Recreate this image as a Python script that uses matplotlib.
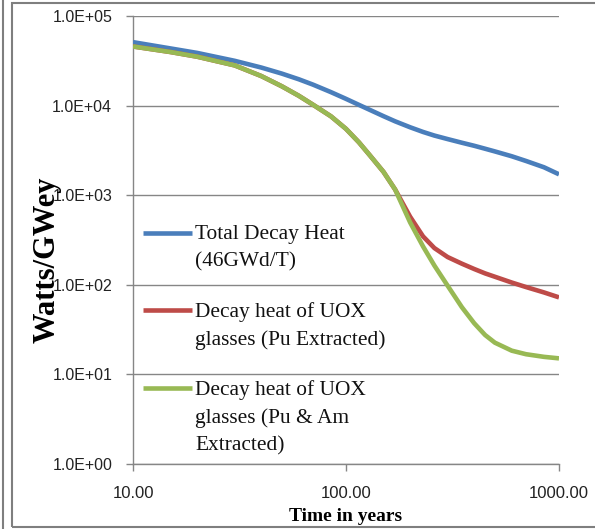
import numpy as np
import matplotlib
matplotlib.use("Agg")
import matplotlib.pyplot as plt
from matplotlib.lines import Line2D
from matplotlib.patches import Rectangle

# years after discharge
years = [10, 15, 20, 30, 40, 50, 60, 70, 85, 100, 115, 130, 150, 170, 200,
         230, 260, 300, 350, 400, 450, 500, 600, 700, 850, 1000]

total_heat = [51050, 43450, 38730, 31620, 26600, 22750, 19680, 17140, 14130, 11890,
              10190, 8910, 7620, 6680, 5730, 5080, 4630, 4230, 3850, 3560,
              3300, 3080, 2720, 2410, 2050, 1710]
pu_extracted = [45710, 39630, 35160, 28120, 21380, 16410, 12880, 10230, 7590, 5500,
                3890, 2750, 1820, 1160, 575, 347, 257, 204, 172, 150,
                134, 123, 106, 94.4, 82.2, 72.4]
pu_am_extracted = [45710, 39630, 35160, 28120, 21380, 16410, 12880, 10230, 7590, 5500,
                   3890, 2750, 1820, 1160, 497, 268, 164, 97.7, 56.2, 37.2,
                   27.5, 22.6, 18.4, 16.8, 15.7, 15.1]

series_labels = ["Total Decay Heat\n(46GWd/T)",
                 "Decay heat of UOX\nglasses (Pu Extracted)",
                 "Decay heat of UOX\nglasses (Pu & Am\nExtracted)"]
colors = ["#4a7ebb", "#be4b48", "#98b954"]

yticks = [1, 10, 100, 1000, 1e4, 1e5]
ytick_labels = ["1.0E+00", "1.0E+01", "1.0E+02", "1.0E+03", "1.0E+04", "1.0E+05"]
xticks = [10, 100, 1000]
xtick_labels = ["10.00", "100.00", "1000.00"]

serif = ["Liberation Serif", "DejaVu Serif"]
sans = ["Liberation Sans", "DejaVu Sans"]

fig = plt.figure(figsize=(5.95, 5.29), dpi=100)
ax = fig.add_axes([133 / 595, 1 - 464 / 529, 426 / 595, 448 / 529])

series = [total_heat, pu_extracted, pu_am_extracted]
for vals, c in zip(series, colors):
    ax.plot(years, vals, color=c, lw=3.3, solid_capstyle="butt",
            solid_joinstyle="round", zorder=3)

ax.set_xscale("log")
ax.set_yscale("log")
ax.set_xlim(10, 1000)
ax.set_ylim(1, 1e5)
ax.set_yticks(yticks)
ax.set_yticklabels(ytick_labels, family=sans, fontsize=11.5, color="#222222")
ax.set_xticks(xticks)
ax.set_xticklabels(xtick_labels, family=sans, fontsize=12, color="#222222")
ax.minorticks_off()
ax.tick_params(axis="both", color="#868686", length=5, width=1)
ax.tick_params(axis="x", pad=11)
ax.tick_params(axis="y", pad=10)

ax.grid(axis="y", color="#868686", lw=1)
for s in ["top", "right"]:
    ax.spines[s].set_visible(False)
for s in ["left", "bottom"]:
    ax.spines[s].set_color("#868686")
    ax.spines[s].set_linewidth(1)

ax.set_xlabel("Time in years", family=serif, fontsize=14, fontweight="bold", labelpad=5)
ax.set_ylabel("Watts/GWey", family=serif, fontsize=22, fontweight="bold")
ax.yaxis.set_label_coords(-0.168, 0.455)

# legend drawn by hand so the line sits at the first text line
entry_y = [0.516, 0.344, 0.170]
for lbl, c, y in zip(series_labels, colors, entry_y):
    ax.add_line(Line2D([0.0235, 0.1385], [y, y], transform=ax.transAxes,
                       color=c, lw=3.3, solid_capstyle="butt"))
    ax.text(0.146, y + 0.017, lbl, transform=ax.transAxes, ha="left", va="top",
            family=serif, fontsize=15.4, linespacing=1.55, color="#111111")

# frame around the chart
fig.add_artist(Rectangle((12 / 595, 2 / 529), 590 / 595, 524 / 529,
                         transform=fig.transFigure, fill=False,
                         edgecolor="#7f7f7f", lw=1.5))
fig.add_artist(Line2D([3 / 595, 3 / 595], [0, 1], transform=fig.transFigure,
                      color="#7f7f7f", lw=1.5))

fig.savefig("out.png", dpi=100)
